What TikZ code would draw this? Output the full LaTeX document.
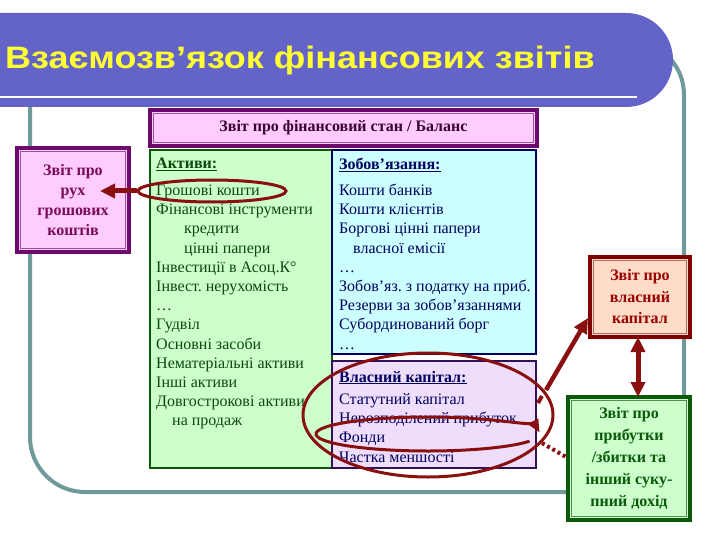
\documentclass[tikz,border=0pt]{standalone}
\usepackage{fontspec}
\setmainfont{Liberation Serif}
\newfontfamily\titlefont{Liberation Sans}
\usetikzlibrary{arrows.meta,shapes.geometric,calc}
\frenchspacing

\definecolor{bandc}{HTML}{6464C8}
\definecolor{titley}{HTML}{FFFF33}
\definecolor{framec}{HTML}{6E9A9A}
\definecolor{pinkf}{HTML}{FFCCFF}
\definecolor{purpled}{HTML}{6E0A6E}
\definecolor{cashtxt}{HTML}{7A0A5A}
\definecolor{toptxt}{HTML}{3C0032}
\definecolor{greenf}{HTML}{CCFFCC}
\definecolor{greend}{HTML}{0A5A0A}
\definecolor{greent}{HTML}{0B4A0B}
\definecolor{cyanf}{HTML}{CCFFFF}
\definecolor{navyd}{HTML}{000060}
\definecolor{lavf}{HTML}{EEDDFB}
\definecolor{lavd}{HTML}{33105A}
\definecolor{peachf}{HTML}{FFDCC8}
\definecolor{redd}{HTML}{800000}
\definecolor{redt}{HTML}{990000}
\definecolor{arrowc}{HTML}{8A1010}

\tikzset{
  thickbox/.style={draw=#1, line width=4, inner sep=0, outer sep=0, align=center},
  thinbox/.style={draw=#1, line width=2, inner sep=0, outer sep=0},
  innerline/.style={draw=#1, line width=0.8},
  btext/.style={font=\fontsize{16}{20}\selectfont\bfseries},
  body/.style={anchor=base west, inner sep=0, font=\fontsize{16}{19.2}\selectfont},
  redarrow/.style={draw=arrowc, line width=5, -{Triangle[length=15pt,width=14pt]}},
  ringc/.style={draw=arrowc, line width=3, ellipse, inner sep=0}
}

\begin{document}
\begin{tikzpicture}[x=1pt,y=-1pt]
\useasboundingbox (0,0) rectangle (720,540);
\fill[white] (0,0) rectangle (720,540);

% frame
\draw[framec, line width=4, rounded corners=55] (30,40) rectangle (684,492);

% title band
\fill[bandc] (0,13) -- (626,13) arc[start angle=-90,end angle=90,radius=47] -- (0,107) -- cycle;
\draw[white, line width=2.5] (0,97) -- (637,97);
\node[anchor=base west, inner sep=0, text=titley, font=\titlefont\bfseries\fontsize{31}{36}\selectfont] (title) at (5,68.5) {\scalebox{1.16}[1]{Взаємозв’язок фінансових звітів}};

% top box
\node[thickbox=purpled, fill=pinkf, minimum width=387, minimum height=36, text=toptxt, font=\fontsize{16}{19}\selectfont\bfseries] (top) at (343.5,128) {Звіт про фінансовий стан / Баланс};
\draw[innerline=purpled!70] ([shift={(3.5,3.5)}]top.north west) rectangle ([shift={(-3.5,-3.5)}]top.south east);

% cash box
\node[thickbox=purpled, fill=pinkf, minimum width=112, minimum height=104, text=cashtxt, btext] (cash) at (73,200) {Звіт про\\рух\\грошових\\коштів};
\draw[innerline=purpled!70] ([shift={(3.5,3.5)}]cash.north west) rectangle ([shift={(-3.5,-3.5)}]cash.south east);

% assets box
\node[thinbox=greend, fill=greenf, minimum width=182, minimum height=318] (assets) at (241,309) {};
% liabilities box
\node[thinbox=navyd, fill=cyanf, minimum width=204, minimum height=204] (liab) at (434,252) {};
% equity box
\node[thinbox=lavd, fill=lavf, minimum width=204, minimum height=107] (equity) at (434,414.5) {};

% assets text
\node[body, text=greent] (ah) at (156,169) {\textbf{\underline{Активи:}}};
\foreach \xx/\yy/\txt [count=\i] in {
  156/195.5/{Грошові кошти},
  156/214.7/{Фінансові інструменти},
  184/233.9/{кредити},
  184/253.1/{цінні папери},
  156/272.3/{Інвестиції в Асоц.К°},
  156/291.5/{Інвест. нерухомість},
  156/310.7/{…},
  156/329.9/{Гудвіл},
  156/349.1/{Основні засоби},
  156/368.3/{Нематеріальні активи},
  156/387.5/{Інші активи},
  156/406.7/{Довгострокові активи},
  172/425.9/{на продаж}}
  \node[body, text=greent] (a\i) at (\xx,\yy) {\txt};

% liabilities text
\node[body, text=navyd] (lh) at (339,170) {\textbf{\underline{Зобов’язання:}}};
\foreach \xx/\yy/\txt [count=\i] in {
  339/195.5/{Кошти банків},
  339/214.7/{Кошти клієнтів},
  339/233.9/{Боргові цінні папери},
  353/253.1/{власної емісії},
  339/272.3/{…},
  339/291.5/{Зобов’яз. з податку на приб.},
  339/310.7/{Резерви за зобов’язаннями},
  339/329.9/{Субординований борг},
  339/349.1/{…}}
  \node[body, text=navyd] (l\i) at (\xx,\yy) {\txt};

% equity text
\node[body, text=navyd] (eh) at (339,382) {\textbf{\underline{Власний капітал:}}};
\foreach \xx/\yy/\txt [count=\i] in {
  339/404.5/{Статутний капітал},
  339/423.7/{Нерозподілений прибуток},
  339/442.9/{Фонди},
  339/462.1/{Частка меншості}}
  \node[body, text=navyd] (q\i) at (\xx,\yy) {\txt};

% own equity statement box
\node[thickbox=redd, fill=peachf, minimum width=100, minimum height=80, text=redt, font=\fontsize{16}{21.5}\selectfont\bfseries] (own) at (640,297) {Звіт про\\власний\\капітал};
\draw[innerline=redd!60] ([shift={(3.5,3.5)}]own.north west) rectangle ([shift={(-3.5,-3.5)}]own.south east);

% profit and loss box
\node[thickbox=greend, fill=greenf, minimum width=122, minimum height=123, text=greend, font=\fontsize{16}{22}\selectfont\bfseries] (pl) at (629,458.5) {Звіт про\\прибутки\\/збитки та\\інший суку-\\пний дохід};
\draw[innerline=greend!70] ([shift={(3.5,3.5)}]pl.north west) rectangle ([shift={(-3.5,-3.5)}]pl.south east);

% rings
\node[ringc, minimum width=148, minimum height=22] (e1) at (212,191) {};
\node[ringc, minimum width=250, minimum height=124] (e2) at (428,415) {};
\draw[arrowc, line width=3, -{Triangle[length=13pt,width=11pt]}] ($(428,434)+(25:112 and 17)$) arc[start angle=25, end angle=355, x radius=112, y radius=17];

% connectors
\coordinate (cashtip) at (100,191);
\draw[redarrow] (e1.west) -- (cashtip);

\coordinate (ownstart) at (546,390);
\coordinate (owntip) at (588,318);
\draw[arrowc, line width=4] (538,403) -- (542,396);
\draw[redarrow, line width=4.5] (ownstart) -- (owntip);

\coordinate (dx) at (638,0);
\draw[redarrow, {Triangle[length=15pt,width=14pt]}-{Triangle[length=15pt,width=14pt]}] (own.south -| dx) -- (pl.north -| dx);

\coordinate (dotstart) at (542,443);
\coordinate (dotend) at (566,457);
\draw[arrowc, line width=4, dash pattern=on 3pt off 3pt] (dotstart) -- (dotend);
\end{tikzpicture}
\end{document}
